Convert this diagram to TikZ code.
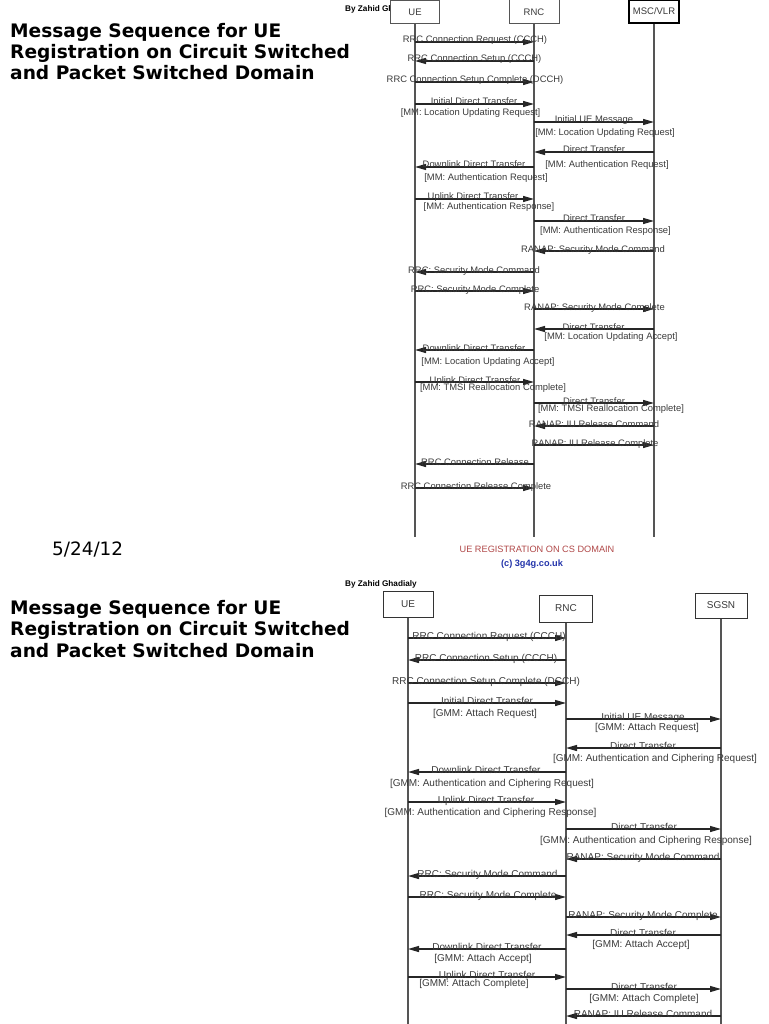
\documentclass[tikz,border=0pt]{standalone}
\usepackage{fontspec}
\setmainfont{Liberation Sans}
\newfontfamily\titlefont{DejaVu Sans}
\usetikzlibrary{arrows.meta}
\definecolor{lifegray}{HTML}{555555}
\definecolor{txtgray}{HTML}{3A3A3A}
\definecolor{regred}{HTML}{B04848}
\definecolor{copyblue}{HTML}{2233AA}

\begin{document}
\begin{tikzpicture}[x=1pt, y=-1pt,
    box/.style={draw=lifegray, line width=1pt, fill=white, inner sep=0pt, text=txtgray, font=\fontsize{9.5}{11}\selectfont},
    life/.style={draw=lifegray, line width=1.2pt},
    msg/.style={draw=black!85, line width=1.3pt, -{Triangle[length=11pt,width=6pt]}},
    lbl/.style={text=txtgray, inner sep=0pt, anchor=base, font=\fontsize{9.4}{11}\selectfont},
    sub/.style={text=txtgray, inner sep=0pt, font=\fontsize{9.4}{11}\selectfont},
    big/.style={font=\fontsize{10}{12}\selectfont},
    heading/.style={anchor=base west, align=left, inner sep=0pt, font=\titlefont\bfseries\fontsize{18.6}{21.3}\selectfont},
    byline/.style={anchor=west, inner sep=0pt, font=\bfseries\fontsize{8.2}{9}\selectfont}
  ]
  \useasboundingbox (0,0) rectangle (768,1024);

  % left side
  \node[heading] (title1) at (10,80) {Message Sequence for UE\\Registration on Circuit Switched\\and Packet Switched Domain};
  \node[anchor=base west, inner sep=0pt, font=\titlefont\fontsize{18.4}{21}\selectfont] (date) at (52,555) {5/24/12};
  \node[heading] (title2) at (10,657) {Message Sequence for UE\\Registration on Circuit Switched\\and Packet Switched Domain};

  % CS domain
  \node[byline] (by1) at (345,9) {By Zahid Ghadialy};
  \node[box, minimum width=49pt, minimum height=23pt] (ue) at (415,12.5) {UE};
  \node[box, minimum width=50pt, minimum height=24pt] (rnc) at (534,12) {RNC};
  \node[box, draw=black, line width=1.3pt, minimum width=50pt, minimum height=23pt] (msc) at (654,11.5) {MSC/VLR};
  \coordinate (ueEnd) at (ue |- 0,537);
  \coordinate (rncEnd) at (rnc |- 0,537);
  \coordinate (mscEnd) at (msc |- 0,537);
  \draw[life] (ue) -- (ueEnd);
  \draw[life] (rnc) -- (rncEnd);
  \draw[life] (msc) -- (mscEnd);

  \foreach \y/\a/\b/\lx/\t in {
      42/ue/rnc/475/{RRC Connection Request (CCCH)},
      61/rnc/ue/474.5/{RRC Connection Setup (CCCH)},
      82/ue/rnc/475/{RRC Connection Setup Complete (DCCH)},
      104/ue/rnc/474/{Initial Direct Transfer},
      122/rnc/msc/594/{Initial UE Message},
      152/msc/rnc/594/{Direct Transfer},
      167/rnc/ue/474/{Downlink Direct Transfer},
      199/ue/rnc/473/{Uplink Direct Transfer},
      221/rnc/msc/594/{Direct Transfer},
      251/msc/rnc/593/{RANAP: Security Mode Command},
      272/rnc/ue/474/{RRC: Security Mode Command},
      291/ue/rnc/475/{RRC: Security Mode Complete},
      309/rnc/msc/594.5/{RANAP: Security Mode Complete},
      329/msc/rnc/593.5/{Direct Transfer},
      350/rnc/ue/474/{Downlink Direct Transfer},
      382/ue/rnc/475/{Uplink Direct Transfer},
      403/rnc/msc/594/{Direct Transfer},
      426/msc/rnc/594/{RANAP: IU Release Command},
      445/rnc/msc/595/{RANAP: IU Release Complete},
      464/rnc/ue/475/{RRC Connection Release},
      488/ue/rnc/476/{RRC Connection Release Complete}}{
    \draw[msg] (\a |- 0,\y) -- (\b |- 0,\y);
    \node[lbl] (lbl\y) at (\lx,\y+1) {\t};
  }
  \foreach \y/\lx/\t in {
      113/470.5/{[MM: Location Updating Request]},
      133/605/{[MM: Location Updating Request]},
      165/607/{[MM: Authentication Request]},
      178/486/{[MM: Authentication Request]},
      207/489/{[MM: Authentication Response]},
      231/605.5/{[MM: Authentication Response]},
      337/611/{[MM: Location Updating Accept]},
      362/488/{[MM: Location Updating Accept]},
      388/493/{[MM: TMSI Reallocation Complete]},
      409/611/{[MM: TMSI Reallocation Complete]}}{
    \node[sub] (sub\y) at (\lx,\y) {\t};
  }
  \node[text=regred, font=\fontsize{9.2}{11}\selectfont] (cs) at (537,549) {UE REGISTRATION ON CS DOMAIN};
  \node[text=copyblue, font=\bfseries\fontsize{9.2}{11}\selectfont] (copy) at (532,564) {(c) 3g4g.co.uk};

  % PS domain
  \node[byline] (by2) at (345,584) {By Zahid Ghadialy};
  \node[box, draw=black!80, minimum width=50pt, minimum height=26pt, big] (ue2) at (408,604) {UE};
  \node[box, draw=black!80, minimum width=53pt, minimum height=27pt, big] (rnc2) at (566,608.5) {RNC};
  \node[box, draw=black!80, minimum width=52pt, minimum height=25pt, big] (sgsn) at (721,605.5) {SGSN};
  \coordinate (ue2End) at (ue2 |- 0,1024);
  \coordinate (rnc2End) at (rnc2 |- 0,1024);
  \coordinate (sgsnEnd) at (sgsn |- 0,1024);
  \draw[life] (ue2) -- (ue2End);
  \draw[life] (rnc2) -- (rnc2End);
  \draw[life] (sgsn) -- (sgsnEnd);

  \foreach \y/\a/\b/\lx/\t in {
      638/ue2/rnc2/489/{RRC Connection Request (CCCH)},
      660/rnc2/ue2/486/{RRC Connection Setup (CCCH)},
      683/ue2/rnc2/486/{RRC Connection Setup Complete (DCCH)},
      703/ue2/rnc2/487/{Initial Direct Transfer},
      719/rnc2/sgsn/643/{Initial UE Message},
      748/sgsn/rnc2/643/{Direct Transfer},
      772/rnc2/ue2/486/{Downlink Direct Transfer},
      802/ue2/rnc2/486/{Uplink Direct Transfer},
      829/rnc2/sgsn/644/{Direct Transfer},
      859/sgsn/rnc2/643/{RANAP: Security Mode Command},
      876/rnc2/ue2/487.5/{RRC: Security Mode Command},
      897/ue2/rnc2/488/{RRC: Security Mode Complete},
      917/rnc2/sgsn/643/{RANAP: Security Mode Complete},
      935/sgsn/rnc2/643/{Direct Transfer},
      949/rnc2/ue2/487/{Downlink Direct Transfer},
      977/ue2/rnc2/487/{Uplink Direct Transfer},
      989/rnc2/sgsn/644/{Direct Transfer},
      1016/sgsn/rnc2/643/{RANAP: IU Release Command}}{
    \draw[msg] (\a |- 0,\y) -- (\b |- 0,\y);
    \node[lbl, big] (lbl\y) at (\lx,\y+1) {\t};
  }
  \foreach \y/\lx/\t in {
      714/485/{[GMM: Attach Request]},
      728/647/{[GMM: Attach Request]},
      759/655/{[GMM: Authentication and Ciphering Request]},
      784/492/{[GMM: Authentication and Ciphering Request]},
      813/490.5/{[GMM: Authentication and Ciphering Response]},
      841/646/{[GMM: Authentication and Ciphering Response]},
      945/641/{[GMM: Attach Accept]},
      959/483/{[GMM: Attach Accept]},
      984/474/{[GMM: Attach Complete]},
      999/644/{[GMM: Attach Complete]}}{
    \node[sub, big] (sub\y) at (\lx,\y) {\t};
  }
\end{tikzpicture}
\end{document}
